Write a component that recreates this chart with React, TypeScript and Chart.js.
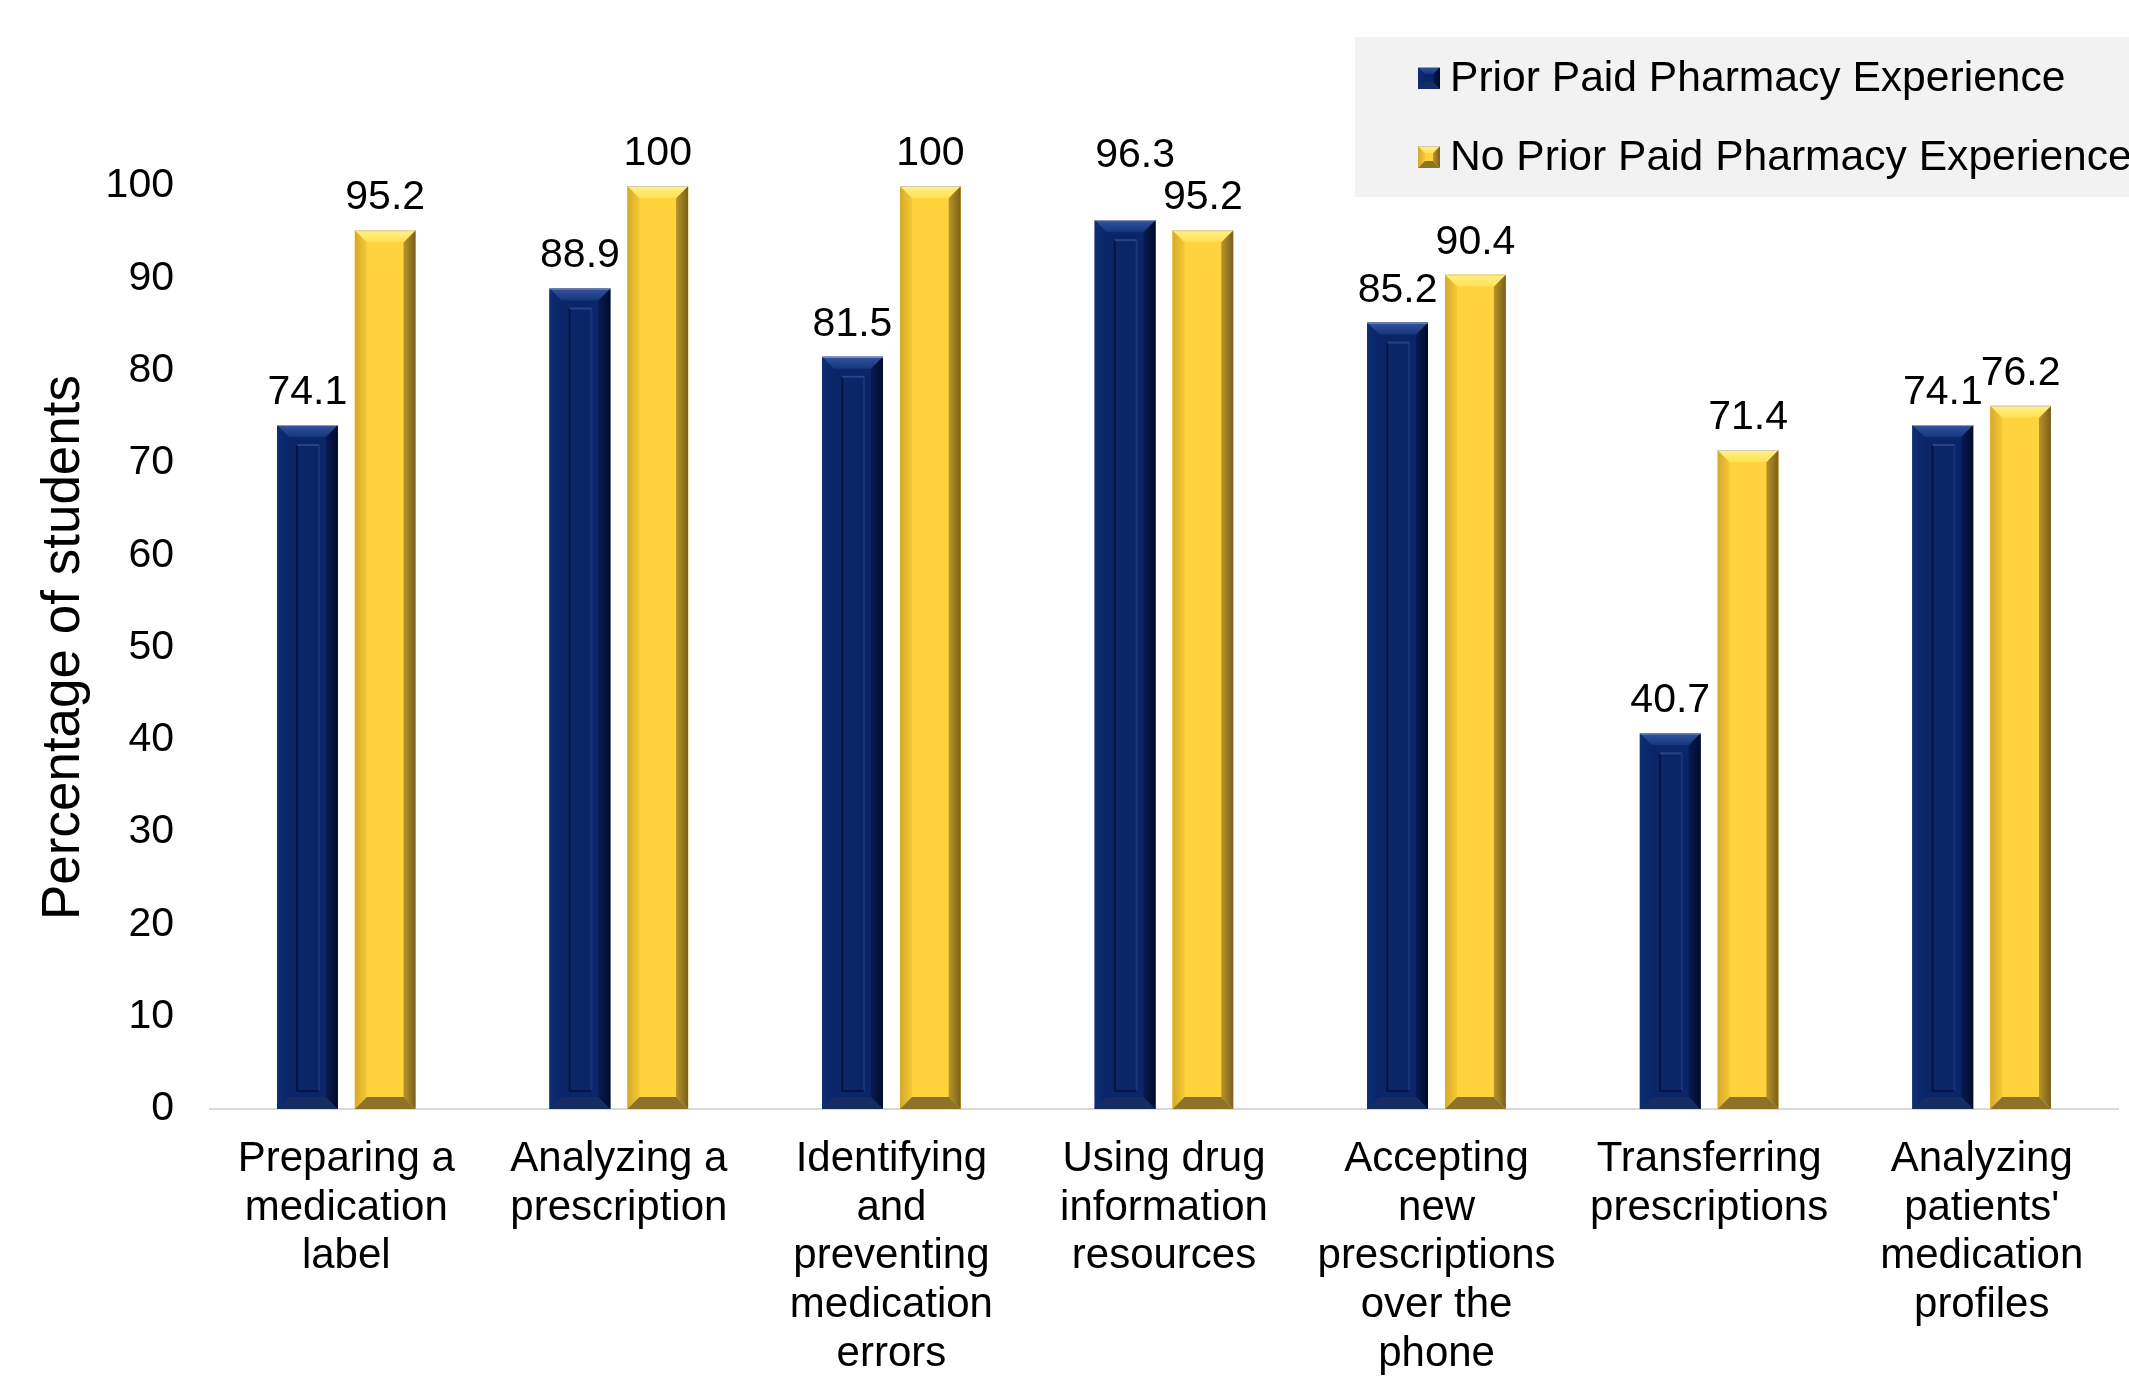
import React, { useEffect, useRef } from "react";
import { Chart, registerables } from "chart.js";

Chart.register(...registerables);

// Skill categories (multi-line labels under each group)
const categories: string[][] = [
  ["Preparing a", "medication", "label"],
  ["Analyzing a", "prescription"],
  ["Identifying", "and", "preventing", "medication", "errors"],
  ["Using drug", "information", "resources"],
  ["Accepting", "new", "prescriptions", "over the", "phone"],
  ["Transferring", "prescriptions"],
  ["Analyzing", "patients'", "medication", "profiles"],
];

const seriesNames = ["Prior Paid Pharmacy Experience", "No Prior Paid Pharmacy Experience"];

// Percentage of students per category
const priorPaid = [74.1, 88.9, 81.5, 96.3, 85.2, 40.7, 74.1];
const noPriorPaid = [95.2, 100, 100, 95.2, 90.4, 71.4, 76.2];

const yTicks = [0, 10, 20, 30, 40, 50, 60, 70, 80, 90, 100];

const FONT = "'Liberation Sans', Arial, Helvetica, sans-serif";

type Palette = {
  face: string;
  left0: string;
  left1: string;
  right0: string;
  right1: string;
  top0: string;
  top1: string;
  bottom: string;
  inner?: boolean;
};

const navy: Palette = {
  face: "#0a2568",
  left0: "#0f2d74",
  left1: "#0a2669",
  right0: "#071c54",
  right1: "#020b27",
  top0: "#3454a0",
  top1: "#15357b",
  bottom: "#172d62",
  inner: true,
};

const gold: Palette = {
  face: "#ffd33b",
  left0: "#d6a92b",
  left1: "#f4c935",
  right0: "#b8942a",
  right1: "#7a5f1c",
  top0: "#fff08a",
  top1: "#ffe152",
  bottom: "#8c7328",
};

const palettes = [navy, gold];

// A few value labels sit slightly offset to stay clear of neighbours: [dx, dy]
const labelNudge: Record<string, [number, number]> = { "0-3": [10, -32] };

function poly(ctx: CanvasRenderingContext2D, pts: number[][], fill: string | CanvasGradient) {
  ctx.beginPath();
  ctx.moveTo(pts[0][0], pts[0][1]);
  for (let i = 1; i < pts.length; i++) ctx.lineTo(pts[i][0], pts[i][1]);
  ctx.closePath();
  ctx.fillStyle = fill;
  ctx.fill();
}

function drawBevel(
  ctx: CanvasRenderingContext2D,
  L: number,
  T: number,
  R: number,
  B: number,
  p: Palette,
  depth: number
) {
  const w = R - L;
  const h = B - T;
  if (w <= 0 || h <= 0) return;
  const d = Math.min(depth, w / 2, h / 2);
  ctx.save();
  ctx.fillStyle = p.face;
  ctx.fillRect(L, T, w, h);

  let g = ctx.createLinearGradient(L, 0, L + d, 0);
  g.addColorStop(0, p.left0);
  g.addColorStop(1, p.left1);
  poly(ctx, [[L, T], [L + d, T + d], [L + d, B - d], [L, B]], g);

  g = ctx.createLinearGradient(R - d, 0, R, 0);
  g.addColorStop(0, p.right0);
  g.addColorStop(1, p.right1);
  poly(ctx, [[R, T], [R - d, T + d], [R - d, B - d], [R, B]], g);

  g = ctx.createLinearGradient(0, T, 0, T + d);
  g.addColorStop(0, p.top0);
  g.addColorStop(1, p.top1);
  poly(ctx, [[L, T], [R, T], [R - d, T + d], [L + d, T + d]], g);

  poly(ctx, [[L, B], [R, B], [R - d, B - d], [L + d, B - d]], p.bottom);

  if (p.inner && h > 60) {
    const ix0 = L + w * 0.33;
    const ix1 = L + w * 0.69;
    const iy0 = T + d + 8;
    const iy1 = B - d - 6;
    ctx.lineWidth = 2;
    ctx.strokeStyle = "rgba(3, 14, 50, 0.75)";
    ctx.beginPath();
    ctx.moveTo(ix0, iy1);
    ctx.lineTo(ix0, iy0);
    ctx.stroke();
    ctx.strokeStyle = "rgba(60, 90, 160, 0.6)";
    ctx.beginPath();
    ctx.moveTo(ix0, iy0);
    ctx.lineTo(ix1, iy0);
    ctx.stroke();
    ctx.strokeStyle = "rgba(40, 70, 140, 0.5)";
    ctx.beginPath();
    ctx.moveTo(ix1, iy0);
    ctx.lineTo(ix1, iy1);
    ctx.stroke();
    ctx.strokeStyle = "rgba(3, 14, 50, 0.7)";
    ctx.beginPath();
    ctx.moveTo(ix0, iy1);
    ctx.lineTo(ix1, iy1);
    ctx.stroke();
  }

  ctx.strokeStyle = "rgba(190, 190, 190, 0.7)";
  ctx.lineWidth = 1;
  ctx.beginPath();
  ctx.moveTo(L, T + 0.5);
  ctx.lineTo(R, T + 0.5);
  ctx.stroke();
  ctx.restore();
}

// Beveled bar faces plus value labels above each bar
const bevelBars = {
  id: "bevelBars",
  afterDatasetsDraw(chart: any) {
    const ctx: CanvasRenderingContext2D = chart.ctx;
    chart.data.datasets.forEach((ds: any, di: number) => {
      const meta = chart.getDatasetMeta(di);
      meta.data.forEach((el: any, i: number) => {
        const { x, y, base, width } = el.getProps(["x", "y", "base", "width"], true);
        drawBevel(ctx, x - width / 2, y, x + width / 2, base, palettes[di], 12);
        const nudge = labelNudge[`${di}-${i}`] || [0, 0];
        ctx.save();
        ctx.font = `41px ${FONT}`;
        ctx.fillStyle = "#000";
        ctx.textAlign = "center";
        ctx.textBaseline = "alphabetic";
        ctx.fillText(String(ds.data[i]), x + nudge[0], y - 21 + nudge[1]);
        ctx.restore();
      });
    });
  },
};

// Boxed legend in the top-right corner
const boxedLegend = {
  id: "boxedLegend",
  afterDraw(chart: any) {
    const ctx: CanvasRenderingContext2D = chart.ctx;
    ctx.save();
    ctx.fillStyle = "#f2f2f2";
    ctx.fillRect(1355, 37, chart.width - 1355, 160);
    const rows = [78, 157];
    chart.data.datasets.forEach((ds: any, di: number) => {
      const cy = rows[di];
      drawBevel(ctx, 1418, cy - 11, 1440, cy + 11, { ...palettes[di], inner: false }, 7);
      ctx.font = `42.6px ${FONT}`;
      ctx.fillStyle = "#000";
      ctx.textAlign = "left";
      ctx.textBaseline = "middle";
      ctx.fillText(ds.label, 1450, cy + 1);
    });
    ctx.restore();
  },
};

export default function App() {
  const canvasRef = useRef<HTMLCanvasElement | null>(null);

  useEffect(() => {
    document.body.style.margin = "0";
    const canvas = canvasRef.current;
    if (!canvas) return;
    const chart = new Chart(canvas, {
      type: "bar",
      data: {
        labels: categories as any,
        datasets: [
          {
            label: seriesNames[0],
            data: priorPaid,
            backgroundColor: navy.face,
            borderWidth: 0,
            categoryPercentage: 0.571,
            barPercentage: 0.78,
          },
          {
            label: seriesNames[1],
            data: noPriorPaid,
            backgroundColor: gold.face,
            borderWidth: 0,
            categoryPercentage: 0.571,
            barPercentage: 0.78,
          },
        ],
      },
      options: {
        responsive: false,
        animation: false,
        devicePixelRatio: 1,
        layout: { padding: { top: 186, right: 11, bottom: 0, left: 0 } },
        plugins: {
          legend: { display: false },
          tooltip: { enabled: false },
        },
        scales: {
          x: {
            grid: { display: false, drawTicks: false },
            border: { display: true, color: "#d9d9d9", width: 2 },
            ticks: {
              color: "#000",
              font: { family: FONT, size: 42, lineHeight: 1.16 },
              padding: 26,
              autoSkip: false,
              maxRotation: 0,
              minRotation: 0,
            },
            afterFit(scale: any) {
              scale.height = 267;
            },
          },
          y: {
            min: 0,
            max: 100,
            grid: { display: false, drawTicks: false },
            border: { display: false },
            afterBuildTicks(scale: any) {
              scale.ticks = yTicks.map((v) => ({ value: v }));
            },
            ticks: {
              color: "#000",
              font: { family: FONT, size: 41 },
              padding: 36,
            },
            title: {
              display: true,
              text: "Percentage of students",
              color: "#000",
              font: { family: FONT, size: 53 },
              padding: { top: 33, bottom: 0 },
            },
            afterFit(scale: any) {
              scale.width = 210;
            },
          },
        },
      },
      plugins: [bevelBars, boxedLegend],
    });
    return () => chart.destroy();
  }, []);

  return (
    <div style={{ position: "fixed", left: 0, top: 0, width: 2129, height: 1376, background: "#fff" }}>
      <canvas ref={canvasRef} width={2129} height={1376} style={{ width: 2129, height: 1376, display: "block" }} />
    </div>
  );
}
